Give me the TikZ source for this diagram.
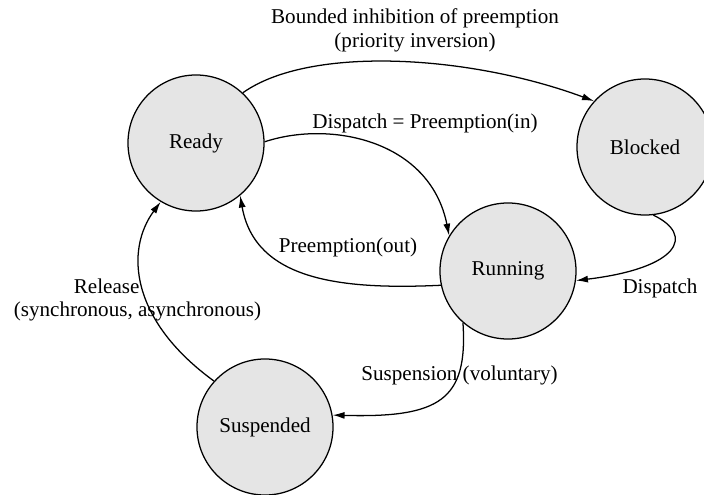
\documentclass[tikz,border=0pt]{standalone}
\usepackage{fontspec}
\setmainfont{Liberation Serif}
\usetikzlibrary{arrows.meta}

\begin{document}
\begin{tikzpicture}[x=0.025cm, y=-0.025cm, line width=0.9pt,
        font=\fontsize{15}{17}\selectfont, >={Latex[length=8.5pt,width=5pt]}]
        \tikzstyle{state} = [draw, shape=circle, fill=gray!20, minimum size=3.4cm, inner sep=0pt]
        \tikzstyle{lbl} = [inner sep=0pt, align=center]
        \useasboundingbox (0,0) rectangle (704,494);
        \node[state] (s1) at (196,143) {Ready};
        \node[state] (s2) at (645,147) {Blocked};
        \node[state] (s3) at (508,271) {Running};
        \node[state] (s4) at (265,427) {Suspended};
        \foreach \from/\ax/\ay/\bx/\by/\to in {s1.47/310/45/470/55/s2.138,
                s1.1/330/120/430/140/s3.149, s3.192/340/290/255/280/s1.310,
                s2.277/695/235/680/268/s3.352, s3.229/468/400/440/418/s4.10,
                s4.138/130/320/125/250/s1.239}
            \draw[->] (\from) .. controls (\ax,\ay) and (\bx,\by) .. (\to);
        \node[lbl] (l1) at (415,30) {Bounded inhibition of preemption\\(priority inversion)};
        \node[lbl] (l2) at (425,123) {Dispatch = Preemption(in)};
        \node[lbl] (l3) at (348,247) {Preemption(out)};
        \node[lbl] (l4) at (660,288) {Dispatch};
        \node[lbl] (l5) at (459.5,375) {Suspension (voluntary)};
        \node[lbl, align=left] (l6) at (137.5,300) {\hspace*{1.5cm}Release\\(synchronous, asynchronous)};
    \end{tikzpicture}
\end{document}
